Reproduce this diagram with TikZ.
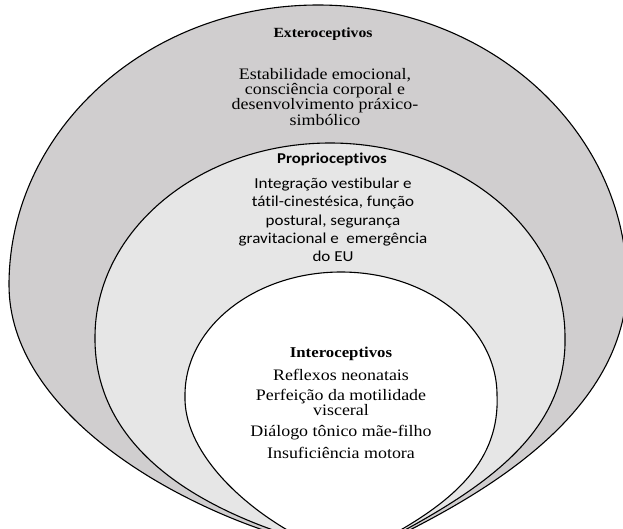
\documentclass[tikz,border=0pt]{standalone}
\usepackage{fontspec}
\newfontfamily\tnr[FakeStretch=1.12]{Liberation Serif}
\newfontfamily\calib[FakeStretch=1.12, Ligatures=NoCommon]{Carlito}
\definecolor{outergray}{RGB}{208,206,207}
\definecolor{midgray}{RGB}{230,230,230}
\tikzset{
  layer/.style={draw=black, line width=1.1pt},
  sertitle/.style={font=\tnr\bfseries\fontsize{14}{14}\selectfont, inner sep=0pt, align=center},
  serbody/.style={font=\tnr\fontsize{16}{14.5}\selectfont, inner sep=0pt, align=center},
  sanstitle/.style={font=\calib\bfseries\fontsize{15}{18}\selectfont, inner sep=0pt, align=center},
  sansbody/.style={font=\calib\fontsize{15.2}{18.3}\selectfont, inner sep=0pt, align=center}
}
\begin{document}
\begin{tikzpicture}[x=1pt,y=-1pt]
\useasboundingbox (0,0) rectangle (623,528);
\begin{scope}
\clip (0,0) rectangle (623,528);
% outer shape
\path[layer, fill=outergray] (9,285) arc[start angle=180, end angle=360, x radius=309, y radius=280]
  .. controls (624,420) and (470,500) .. (390,540) -- (295,540)
  .. controls (170,505) and (9,410) .. cycle;
% middle shape
\path[layer, fill=midgray] (95,337) arc[start angle=180, end angle=360, x radius=235, y radius=194]
  .. controls (567,430) and (490,485) .. (390,538) -- (297,538)
  .. controls (175,500) and (94,435) .. cycle;
% inner shape
\path[layer, fill=white] (185,395) arc[start angle=180, end angle=360, x radius=156, y radius=123]
  .. controls (500,460) and (455,500) .. (390,536) -- (298,536)
  .. controls (240,505) and (183,450) .. cycle;
\end{scope}
\node[sertitle] (ext) at (323,34) {Exteroceptivos};
\node[serbody] (extb) at (325,97) {Estabilidade emocional,\\consciência corporal e\\desenvolvimento práxico-\\simbólico};
\node[sanstitle] (prop) at (332,159) {Proprioceptivos};
\node[sansbody] (propb) at (333,220) {Integração vestibular e\\tátil-cinestésica, função\\postural, segurança\\gravitacional e\ \ emergência\\do EU};
\node[sertitle, font=\tnr\bfseries\fontsize{15}{15}\selectfont] (int) at (341,354) {Interoceptivos};
\node[serbody] (intb) at (341,414) {Reflexos neonatais\\[5pt]Perfeição da motilidade\\visceral\\[6pt]Diálogo tônico mãe-filho\\[6pt]Insuficiência motora};
\end{tikzpicture}
\end{document}
